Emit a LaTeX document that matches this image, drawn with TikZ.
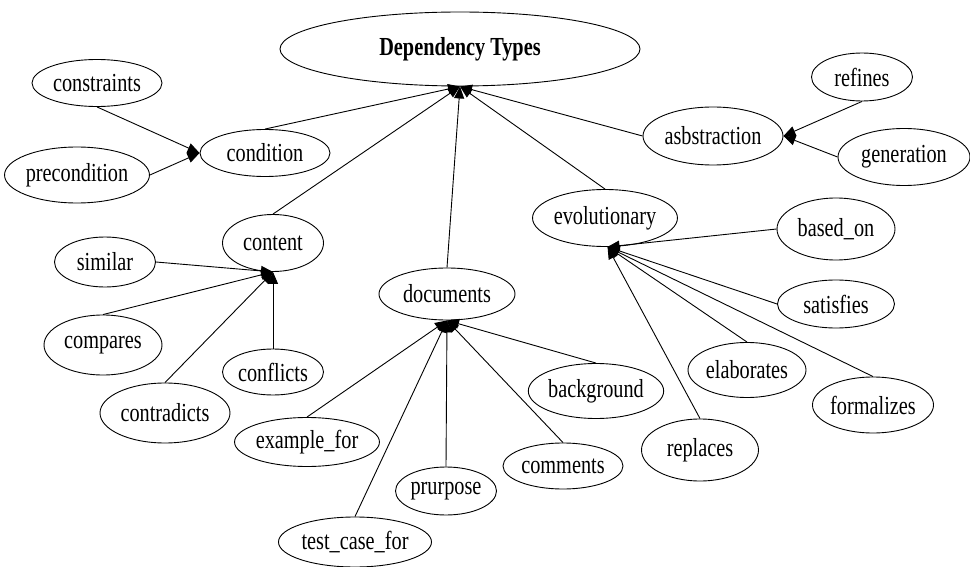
\documentclass[tikz,border=0pt]{standalone}
\usepackage{fontspec}
\setmainfont{Liberation Serif}[FakeStretch=0.78]
\usetikzlibrary{shapes.geometric,arrows.meta}
\begin{document}
\begin{tikzpicture}[x=1pt,y=-1pt,
  dep/.style={draw=black,line width=0.9pt,ellipse,inner sep=0pt,
    font=\fontsize{26}{28}\selectfont},
  link/.style={draw=black,line width=0.9pt,-{Triangle[length=12pt,width=10pt]}}]
\useasboundingbox[fill=white] (0,0) rectangle (970,567);

% root
\node[dep,minimum width=360pt,minimum height=74pt,font=\fontsize{26}{28}\selectfont\bfseries] (root) at (460,49) {Dependency Types};

% condition branch
\node[dep,minimum width=130pt,minimum height=47pt] (constraints) at (97,83) {constraints};
\node[dep,minimum width=135pt,minimum height=56pt] (precondition) at (77,175) {precondition};
\node[dep,minimum width=130pt,minimum height=47pt] (condition) at (265,153) {condition};

% abstraction branch
\node[dep,minimum width=140pt,minimum height=58pt] (abstraction) at (713,136) {asbstraction};
\node[dep,minimum width=101pt,minimum height=48pt] (refines) at (862,77) {refines};
\node[dep,minimum width=132pt,minimum height=57pt] (generation) at (904,157) {generation};

% content branch
\node[dep,minimum width=101pt,minimum height=57pt] (content) at (273,243) {content};
\node[dep,minimum width=101pt,minimum height=50pt] (similar) at (105,262) {similar};
\node[dep,minimum width=118pt,minimum height=60pt] (compares) at (103,345) {compares};
\node[dep,minimum width=101pt,minimum height=46pt] (conflicts) at (273,372) {conflicts};
\node[dep,minimum width=130pt,minimum height=60pt] (contradicts) at (165,413) {contradicts};

% documents branch
\node[dep,minimum width=136pt,minimum height=52pt] (documents) at (447,294) {documents};
\node[dep,minimum width=128pt,minimum height=55pt] (background) at (596,391) {background};
\node[dep,minimum width=120pt,minimum height=46pt] (comments) at (563,466) {comments};
\node[dep,minimum width=140pt,minimum height=49pt] (example) at (307,442) {example\_for};
\node[dep,minimum width=101pt,minimum height=48pt] (purpose) at (446,491) {prurpose};
\node[dep,minimum width=153pt,minimum height=50pt] (testcase) at (355,542) {test\_case\_for};

% evolutionary branch
\node[dep,minimum width=139pt,minimum height=57pt] (evolutionary) at (605,218) {evolutionary};
\node[dep,minimum width=118pt,minimum height=62pt] (basedon) at (836,229) {based\_on};
\node[dep,minimum width=117pt,minimum height=48pt] (satisfies) at (836,304) {satisfies};
\node[dep,minimum width=118pt,minimum height=55pt] (elaborates) at (747,370) {elaborates};
\node[dep,minimum width=118pt,minimum height=56pt] (formalizes) at (873,405) {formalizes};
\node[dep,minimum width=117pt,minimum height=62pt] (replaces) at (700,450) {replaces};

% edges into the root
\draw[link] (condition.north) -- (root.south);
\draw[link] (content.north) -- (root.south);
\draw[link] (documents.north) -- (root.south);
\draw[link] (evolutionary.north) -- (root.south);
\draw[link] (abstraction.west) -- (root.south);

% condition
\draw[link] (constraints.south) -- (condition.west);
\draw[link] (precondition.east) -- (condition.west);

% abstraction
\draw[link] (refines.south) -- (abstraction.east);
\draw[link] (generation.west) -- (abstraction.east);

% content
\draw[link] (similar.east) -- (content.south);
\draw[link] (compares.north) -- (content.south);
\draw[link] (contradicts.north) -- (content.south);
\draw[link] (conflicts.north) -- (content.south);

% documents
\draw[link] (example.north) -- (documents.south);
\draw[link] (testcase.north) -- (documents.south);
\draw[link] (purpose.north) -- (documents.south);
\draw[link] (comments.north) -- (documents.south);
\draw[link] (background.north) -- (documents.south);

% evolutionary
\draw[link] (basedon.west) -- (evolutionary.-85);
\draw[link] (satisfies.west) -- (evolutionary.-85);
\draw[link] (elaborates.north) -- (evolutionary.-85);
\draw[link] (formalizes.north) -- (evolutionary.-85);
\draw[link] (replaces.north) -- (evolutionary.-85);
\end{tikzpicture}
\end{document}
